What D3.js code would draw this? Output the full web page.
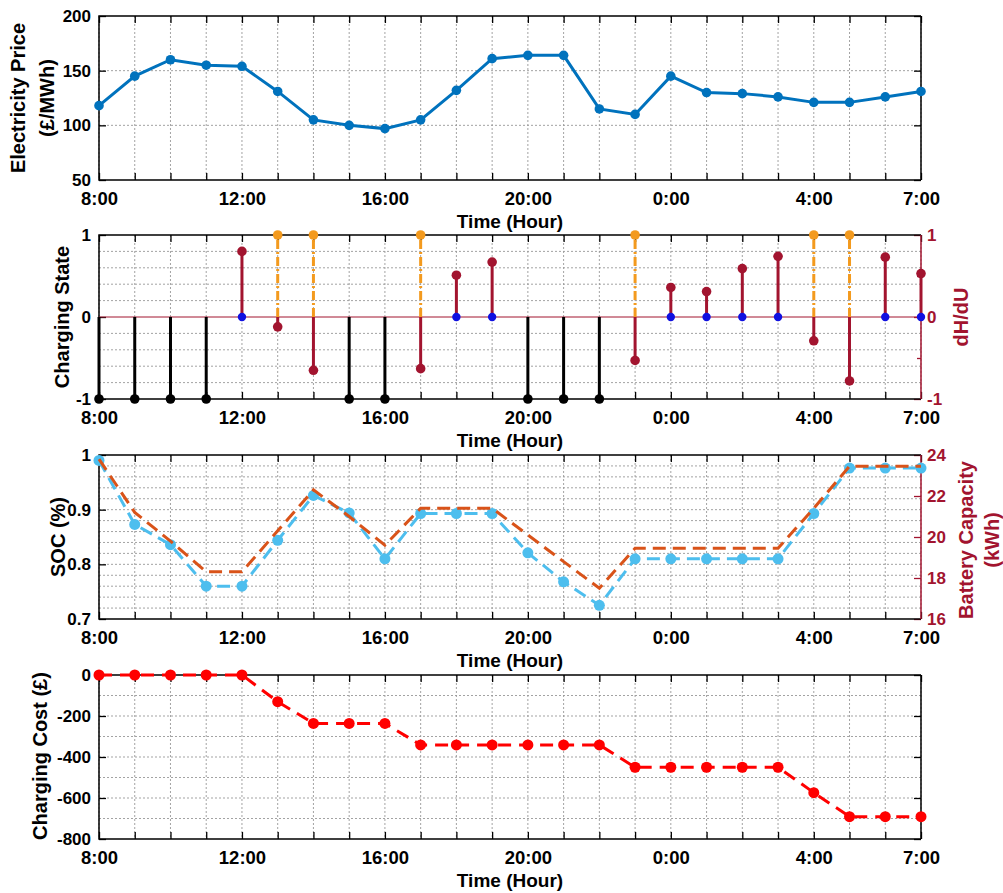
<!DOCTYPE html>
<html>
<head>
<meta charset="utf-8">
<script src="https://cdn.jsdelivr.net/npm/d3@7"></script>
<style>
  body { margin: 0; background: #fff; }
  text { font-family: "Liberation Sans", Arial, sans-serif; font-weight: bold; }
</style>
</head>
<body>
<svg width="1003" height="893"></svg>
<script>
// hours of the day, 8:00 -> 7:00 next morning
const hours = [8,9,10,11,12,13,14,15,16,17,18,19,20,21,22,23,0,1,2,3,4,5,6,7];
const xTickHours = [8,12,16,20,0,4,7];

const price = [118,145,160,155,154,131,105,100,97,105,132,161,164,164,115,110,145,130,129,126,121,121,126,131];
const chargingState = [-1,-1,-1,-1,0,1,1,-1,-1,1,0,0,-1,-1,-1,1,0,0,0,0,1,1,0,0];
const dHdU = [null,null,null,null,0.80,-0.12,-0.65,null,null,-0.63,0.51,0.67,null,null,null,-0.53,0.36,0.31,0.59,0.74,-0.29,-0.78,0.73,0.53];
const soc = [0.99,0.873,0.836,0.76,0.76,0.844,0.926,0.894,0.81,0.893,0.893,0.893,0.821,0.768,0.725,0.81,0.81,0.81,0.81,0.81,0.893,0.976,0.976,0.976];
const batteryCap = [23.8,21.2,19.8,18.3,18.3,20.3,22.3,21.0,19.6,21.4,21.4,21.4,20.1,18.8,17.5,19.45,19.45,19.45,19.45,19.45,21.4,23.45,23.45,23.45];
const cost = [0,0,0,0,0,-130,-236,-236,-236,-341,-341,-341,-341,-341,-341,-450,-450,-450,-450,-450,-574,-691,-691,-691];

const svg = d3.select("svg");
const left = 99, right = 921, ph = 164;
const darkRed = "#A2142F";
const tickFont = 17, xTickFont = 18.5, labelFont = 19, yLabelFont = 20;

var x = d3.scaleLinear().domain([0, hours.length - 1]).range([left, right]);

function styleAxis(g, color, fs) {
  g.attr("font-size", null).attr("font-family", null);
  g.select(".domain").remove();
  g.selectAll("line").attr("stroke", color).attr("stroke-width", 1.3);
  g.selectAll("text").attr("fill", color).style("font-size", (fs || tickFont) + "px");
}

// one panel: frame, grid, axes; returns y scale
var makePanel = function(top, yDom, yTicks, gridVals, opt) {
  const y = d3.scaleLinear().domain(yDom).range([top + ph, top]);
  const g = svg.append("g");

  // grid
  g.selectAll(".vg").data(d3.range(hours.length)).join("line")
    .attr("x1", d => x(d)).attr("x2", d => x(d))
    .attr("y1", top).attr("y2", top + ph)
    .attr("stroke", "#999").attr("stroke-width", 0.9).attr("stroke-dasharray", "2,2");
  g.selectAll(".hg").data(gridVals).join("line")
    .attr("x1", left).attr("x2", right)
    .attr("y1", d => y(d)).attr("y2", d => y(d))
    .attr("stroke", "#999").attr("stroke-width", 0.9).attr("stroke-dasharray", "2,2");

  // x axes (bottom with labels, top ticks only)
  g.append("g").attr("transform", "translate(0," + (top + ph) + ")")
    .call(d3.axisBottom(x).tickValues(d3.range(hours.length)).tickSize(-7).tickSizeOuter(0).tickPadding(12)
      .tickFormat(i => xTickHours.includes(hours[i]) ? hours[i] + ":00" : ""))
    .call(a => styleAxis(a, "#000", xTickFont));
  g.append("g").attr("transform", "translate(0," + top + ")")
    .call(d3.axisTop(x).tickValues(d3.range(hours.length)).tickSize(-7).tickSizeOuter(0).tickFormat(""))
    .call(a => styleAxis(a, "#000"));

  // left y axis
  g.append("g").attr("transform", "translate(" + left + ",0)")
    .call(d3.axisLeft(y).tickValues(yTicks).tickSize(-7).tickSizeOuter(0).tickPadding(8)
      .tickFormat(opt.fmt || (d => d)))
    .call(a => styleAxis(a, "#000"));

  var rightColor = "#000";
  if (opt.right) {
    rightColor = darkRed;
    const y2 = d3.scaleLinear().domain(opt.right.domain).range([top + ph, top]);
    g.append("g").attr("transform", "translate(" + right + ",0)")
      .call(d3.axisRight(y2).tickValues(opt.right.ticks).tickSize(-7).tickSizeOuter(0).tickPadding(6)
        .tickFormat(d => d))
      .call(a => styleAxis(a, darkRed));
    if (opt.right.minor) {
      g.append("g").attr("transform", "translate(" + right + ",0)")
        .call(d3.axisRight(y2).tickValues(opt.right.minor).tickSize(-4).tickSizeOuter(0).tickFormat(""))
        .call(a => styleAxis(a, darkRed));
    }
  } else {
    g.append("g").attr("transform", "translate(" + right + ",0)")
      .call(d3.axisRight(y).tickValues(yTicks).tickSize(-7).tickSizeOuter(0).tickFormat(""))
      .call(a => styleAxis(a, "#000"));
  }

  // frame
  g.append("path").attr("d", "M" + right + "," + top + "H" + left + "V" + (top + ph) + "H" + right)
    .attr("fill", "none").attr("stroke", "#000").attr("stroke-width", 1.5);
  g.append("line").attr("x1", right).attr("x2", right).attr("y1", top).attr("y2", top + ph)
    .attr("stroke", rightColor).attr("stroke-width", 1.5);

  // x title
  g.append("text").attr("x", (left + right) / 2).attr("y", top + ph + 48)
    .attr("text-anchor", "middle").style("font-size", labelFont + "px").text("Time (Hour)");
  return y;
}

function yLabel(lines, cx, cy, color, gap) {
  lines.forEach((t, i) => {
    svg.append("text")
      .attr("transform", "translate(" + (cx + i * gap) + "," + cy + ") rotate(-90)")
      .attr("dy", "0.35em").attr("text-anchor", "middle")
      .attr("fill", color || "#000").style("font-size", yLabelFont + "px").text(t);
  });
}

// ---- panel 1: electricity price
var y1 = makePanel(16, [50, 200], [50, 100, 150, 200], [100, 150], {});
var line1 = d3.line().x((d, i) => x(i)).y(d => y1(d));
svg.append("path").datum(price).attr("d", line1)
  .attr("fill", "none").attr("stroke", "#0072BD").attr("stroke-width", 3);
svg.append("g").selectAll("circle").data(price).join("circle")
  .attr("cx", (d, i) => x(i)).attr("cy", d => y1(d)).attr("r", 4.8).attr("fill", "#0072BD");
yLabel(["Electricity Price", "(£/MWh)"], 17.5, 98, "#000", 29);

// ---- panel 2: charging state and dH/dU
var y2 = makePanel(235, [-1, 1], [-1, 0, 1], [-0.8, -0.6, -0.4, -0.2, 0.2, 0.4, 0.6, 0.8],
  {right: {domain: [-1, 1], ticks: [-1, 0, 1], minor: [-0.5, 0.5]}});
svg.append("line").attr("x1", left).attr("x2", right).attr("y1", y2(0)).attr("y2", y2(0))
  .attr("stroke", darkRed).attr("stroke-width", 1);

var dh = dHdU.map((v, i) => ({i: i, v: v})).filter(d => d.v !== null);
svg.append("g").selectAll("line").data(dh).join("line")
  .attr("x1", d => x(d.i)).attr("x2", d => x(d.i)).attr("y1", y2(0)).attr("y2", d => y2(d.v))
  .attr("stroke", darkRed).attr("stroke-width", 3);
svg.append("g").selectAll("circle").data(dh).join("circle")
  .attr("cx", d => x(d.i)).attr("cy", d => y2(d.v)).attr("r", 4.8).attr("fill", darkRed);

var cs = chargingState.map((v, i) => ({i: i, v: v}));
svg.append("g").selectAll("line").data(cs.filter(d => d.v !== 0)).join("line")
  .attr("x1", d => x(d.i)).attr("x2", d => x(d.i)).attr("y1", y2(0)).attr("y2", d => y2(d.v))
  .attr("stroke", d => d.v < 0 ? "#000" : "#F39A1E").attr("stroke-width", 3)
  .attr("stroke-dasharray", d => d.v < 0 ? null : "9,3,2,3");
svg.append("g").selectAll("circle").data(cs).join("circle")
  .attr("cx", d => x(d.i)).attr("cy", d => y2(d.v)).attr("r", d => d.v === 0 ? 4.2 : 4.8)
  .attr("fill", d => d.v < 0 ? "#000" : d.v > 0 ? "#F39A1E" : "#1010E0");
yLabel(["Charging State"], 62, 317, "#000", 0);
yLabel(["dH/dU"], 961, 317, darkRed, 0);

// ---- panel 3: SOC and battery capacity
var socGrid = d3.range(0.72, 0.995, 0.02);
var y3 = makePanel(455, [0.7, 1], [0.7, 0.8, 0.9, 1], socGrid,
  {right: {domain: [16, 24], ticks: [16, 18, 20, 22, 24]}, fmt: d => d === 1 ? "1" : d.toFixed(1)});
var y3r = d3.scaleLinear().domain([16, 24]).range([455 + ph, 455]);
svg.append("path").datum(soc).attr("d", d3.line().x((d, i) => x(i)).y(d => y3(d)))
  .attr("fill", "none").attr("stroke", "#4DBEEE").attr("stroke-width", 3).attr("stroke-dasharray", "13,7");
svg.append("g").selectAll("circle").data(soc).join("circle")
  .attr("cx", (d, i) => x(i)).attr("cy", d => y3(d)).attr("r", 5.5).attr("fill", "#4DBEEE");
svg.append("path").datum(batteryCap).attr("d", d3.line().x((d, i) => x(i)).y(d => y3r(d)))
  .attr("fill", "none").attr("stroke", "#D95319").attr("stroke-width", 3).attr("stroke-dasharray", "13,7");
yLabel(["SOC (%)"], 58, 537, "#000", 0);
yLabel(["Battery Capacity", "(kWh)"], 966, 540, darkRed, 26);

// ---- panel 4: charging cost
var y4 = makePanel(675, [-800, 0], [-800, -600, -400, -200, 0], [-700, -600, -500, -400, -300, -200, -100], {});
svg.append("path").datum(cost).attr("d", d3.line().x((d, i) => x(i)).y(d => y4(d)))
  .attr("fill", "none").attr("stroke", "#FF0000").attr("stroke-width", 3).attr("stroke-dasharray", "13,8");
svg.append("g").selectAll("circle").data(cost).join("circle")
  .attr("cx", (d, i) => x(i)).attr("cy", d => y4(d)).attr("r", 5.5).attr("fill", "#FF0000");
yLabel(["Charging Cost (£)"], 40, 756, "#000", 0);
</script>
</body>
</html>
